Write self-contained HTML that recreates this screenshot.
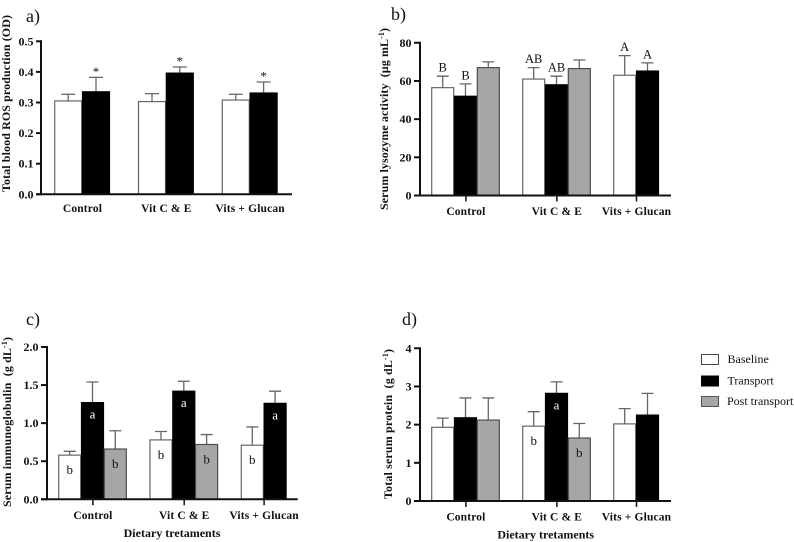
<!DOCTYPE html>
<html lang="en">
<head>
<meta charset="utf-8">
<title>Physiological responses to dietary treatments</title>
<style>
html,body{margin:0;padding:0;background:#fff;}
#figure{display:block;width:794px;height:542px;filter:blur(0.35px);}
text{font-family:"Liberation Serif",serif;fill:#111;}
.bold{font-weight:bold;}
.pre{white-space:pre;}
</style>
</head>
<body>
<svg id="figure" xmlns="http://www.w3.org/2000/svg" width="794" height="542" viewBox="0 0 794 542">
  <g id="panel-a"></g>
  <g id="panel-b"></g>
  <g id="panel-c"></g>
  <g id="panel-d"></g>
  <g>
    <g>
      <rect x="701.5" y="354.5" width="17" height="10" fill="#fff" stroke="#444" stroke-width="1"/>
      <text x="727.5" y="363" font-size="12">Baseline</text>
    </g>
    <g>
      <rect x="701.5" y="376" width="17" height="10" fill="#000" stroke="#000" stroke-width="1"/>
      <text x="727.5" y="384.5" font-size="12">Transport</text>
    </g>
    <g>
      <rect x="701.5" y="396.5" width="17" height="10" fill="#a6a6a6" stroke="#555" stroke-width="1"/>
      <text x="727" y="405" font-size="12">Post transport</text>
    </g>
  </g>
</svg>
<script>
const categories = ['Control', 'Vit C & E', 'Vits + Glucan'];
const seriesNames = ['baseline', 'transport', 'post-transport'];

const rosTicks = ['0.0', '0.1', '0.2', '0.3', '0.4', '0.5'];
const rosBaseline = [0.305, 0.303, 0.308];
const rosBaselineTop = [0.327, 0.329, 0.327];
const rosTransport = [0.335, 0.396, 0.331];
const rosTransportTop = [0.382, 0.416, 0.367];
const rosPost = [null, null, null];
const rosPostTop = [null, null, null];
const rosTransportMarks = ['*', '*', '*'];

const lysoTicks = ['0', '20', '40', '60', '80'];
const lysoBaseline = [56.5, 61, 63];
const lysoBaselineTop = [62.5, 67, 73.3];
const lysoTransport = [52, 58, 65.2];
const lysoTransportTop = [58.5, 62.5, 69.5];
const lysoPost = [67, 66.5, null];
const lysoPostTop = [70, 71, null];
const lysoBaselineMarks = ['B', 'AB', 'A'];
const lysoTransportMarks = ['B', 'AB', 'A'];

const igTicks = ['0.0', '0.5', '1.0', '1.5', '2.0'];
const igBaseline = [0.58, 0.78, 0.71];
const igBaselineTop = [0.63, 0.89, 0.95];
const igTransport = [1.27, 1.42, 1.26];
const igTransportTop = [1.54, 1.55, 1.42];
const igPost = [0.66, 0.72, null];
const igPostTop = [0.90, 0.85, null];
const igBaselineMarks = ['b', 'b', 'b'];
const igTransportMarks = ['a', 'a', 'a'];
const igPostMarks = ['b', 'b', ''];

const tspTicks = ['0', '1', '2', '3', '4'];
const tspBaseline = [1.93, 1.96, 2.02];
const tspBaselineTop = [2.17, 2.34, 2.42];
const tspTransport = [2.18, 2.82, 2.25];
const tspTransportTop = [2.70, 3.12, 2.82];
const tspPost = [2.12, 1.65, null];
const tspPostTop = [2.70, 2.03, null];
const tspBaselineMarks = ['', 'b', ''];
const tspTransportMarks = ['', 'a', ''];
const tspPostMarks = ['', 'b', ''];

const SVG_NS = 'http://www.w3.org/2000/svg';
const FILLS = ['#ffffff', '#000000', '#a6a6a6'];
const EDGES = ['#666666', '#000000', '#4d4d4d'];

function make(parent, tag, attrs, text) {
  const el = document.createElementNS(SVG_NS, tag);
  Object.keys(attrs).forEach(function (k) { el.setAttribute(k, attrs[k]); });
  if (text !== undefined) el.textContent = text;
  parent.appendChild(el);
  return el;
}

function drawPanel(cfg) {
  const root = document.getElementById(cfg.id);
  const maxVal = parseFloat(cfg.ticks[cfg.ticks.length - 1]);
  const yOf = function (v) { return cfg.y0 - (v / maxVal) * (cfg.y0 - cfg.yTop); };
  const barX = function (g, s) { return cfg.x0 + g * cfg.groupStep + s * cfg.barStep; };

  // bars and error bars
  cfg.series.forEach(function (vals, s) {
    vals.forEach(function (v, g) {
      if (v === null) return;
      const x = barX(g, s);
      const w = cfg.barWidth;
      const cx = x + w / 2;
      const top = yOf(cfg.tops[s][g]);
      const capHalf = cfg.cap / 2;
      const stem = make(root, 'path', { d: 'M' + cx + ' ' + yOf(v) + 'V' + top + 'M' + (cx - capHalf) + ' ' + top + 'H' + (cx + capHalf), fill: 'none', stroke: '#666', 'stroke-width': 1.3 });
      
      
      const bar = make(root, 'rect', { x: x, y: yOf(v), width: w, height: cfg.y0 - yOf(v), fill: FILLS[s], stroke: EDGES[s], 'stroke-width': 1.2 });
      
      
    });
  });

  // letters above error bars
  (cfg.above || []).forEach(function (item) {
    item.marks.forEach(function (m, g) {
      if (!m) return;
      const s = item.series;
      const label = make(root, 'text', { x: barX(g, s) + cfg.barWidth / 2 + (cfg.aboveShift || 0), y: yOf(cfg.tops[s][g]) - cfg.aboveGap, 'font-size': cfg.aboveSize, 'text-anchor': 'middle' }, m);
      
      
    });
  });

  // letters inside bars
  (cfg.inside || []).forEach(function (item) {
    item.marks.forEach(function (m, g) {
      if (!m) return;
      const s = item.series;
      const fill = s === 1 ? '#fff' : '#111';
      const gap = m === 'a' ? 16 : 19;
      const label = make(root, 'text', { x: barX(g, s) + cfg.barWidth / 2, y: yOf(cfg.series[s][g]) + gap, 'font-size': 13, 'text-anchor': 'middle', style: 'fill:' + fill }, m);
      
      
    });
  });

  // axes
  const yAxis = make(root, 'line', { x1: cfg.axisX, x2: cfg.axisX, y1: cfg.yTop - 1, y2: cfg.y0 + 1, stroke: '#111', 'stroke-width': 2 });
  
  
  const xAxis = make(root, 'line', { x1: cfg.axisX - cfg.tickLen, x2: cfg.xEnd, y1: cfg.y0, y2: cfg.y0, stroke: '#111', 'stroke-width': 2 });
  
  

  cfg.ticks.forEach(function (t) {
    const y = yOf(parseFloat(t));
    const tick = make(root, 'line', { x1: cfg.axisX - cfg.tickLen, x2: cfg.axisX, y1: y, y2: y, stroke: '#111', 'stroke-width': 2 });
    
    
    const lab = make(root, 'text', { x: cfg.axisX - cfg.tickLen - 2.5, y: y + 4, 'font-size': 12, 'text-anchor': 'end', 'class': 'bold' }, t);
    
    
  });

  categories.forEach(function (c, g) {
    const n = cfg.series.filter(function (vals) { return vals[g] !== null; }).length;
    const cx = barX(g, 0) + n * cfg.barStep / 2;
    if (cfg.xTicks) {
      const tick = make(root, 'line', { x1: cx, x2: cx, y1: cfg.y0, y2: cfg.y0 + 6, stroke: '#111', 'stroke-width': 1.5 });
      
      
    }
    const lab = make(root, 'text', { x: cx, y: cfg.catY, 'font-size': 11.5, 'letter-spacing': 0.15, 'text-anchor': 'middle', 'class': 'bold' }, c);
    
    
  });

  // titles
  const panelLabel = make(root, 'text', { x: cfg.letterX, y: cfg.letterY, 'font-size': 18 }, cfg.letter);
  
  

  const yTitle = make(root, 'text', { transform: 'translate(' + cfg.titleX + ' ' + cfg.titleBottom + ') rotate(-90)', 'font-size': 12, 'class': 'bold pre', textLength: cfg.titleLen, lengthAdjust: 'spacing' });
  
  
  make(yTitle, 'tspan', {}, cfg.title);
  if (cfg.titleSup) {
    make(yTitle, 'tspan', { dy: -4, 'font-size': 8 }, cfg.titleSup);
    make(yTitle, 'tspan', { dy: 4 }, ')');
  }

  if (cfg.xTitleY) {
    const xTitle = make(root, 'text', { x: cfg.xTitleX, y: cfg.xTitleY, 'font-size': 12, 'text-anchor': 'middle', 'class': 'bold' }, 'Dietary tretaments');
    
    
  }
}

drawPanel({
  id: 'panel-a', letter: 'a)', letterX: 26, letterY: 22,
  ticks: rosTicks, y0: 194.3, yTop: 41.3, axisX: 41, xEnd: 292, tickLen: 5,
  x0: 54.7, groupStep: 83.8, barStep: 27.8, barWidth: 27, cap: 14, xTicks: false, catY: 212,
  series: [rosBaseline, rosTransport, rosPost],
  tops: [rosBaselineTop, rosTransportTop, rosPostTop],
  above: [{ series: 1, marks: rosTransportMarks }], aboveGap: 1.5, aboveSize: 13,
  title: 'Total blood ROS production (OD)', titleX: 10, titleBottom: 192, titleLen: 177
});

drawPanel({
  id: 'panel-b', letter: 'b)', letterX: 391, letterY: 20,
  ticks: lysoTicks, y0: 195.5, yTop: 42.8, axisX: 420, xEnd: 671, tickLen: 6,
  x0: 431.7, groupStep: 91, barStep: 22.8, barWidth: 22, cap: 12, xTicks: true, catY: 215,
  series: [lysoBaseline, lysoTransport, lysoPost],
  tops: [lysoBaselineTop, lysoTransportTop, lysoPostTop],
  above: [{ series: 0, marks: lysoBaselineMarks }, { series: 1, marks: lysoTransportMarks }], aboveGap: 4.5, aboveSize: 12.5,
  title: 'Serum lysozyme activity  (\u00b5g mL', titleSup: '-1', titleX: 388, titleBottom: 210, titleLen: 182
});

drawPanel({
  id: 'panel-c', letter: 'c)', letterX: 26, letterY: 325,
  ticks: igTicks, y0: 499.3, yTop: 347, axisX: 47, xEnd: 297.7, tickLen: 6,
  x0: 58.7, groupStep: 91.3, barStep: 22.8, barWidth: 22, cap: 12, xTicks: true, catY: 519,
  series: [igBaseline, igTransport, igPost],
  tops: [igBaselineTop, igTransportTop, igPostTop],
  inside: [{ series: 0, marks: igBaselineMarks }, { series: 1, marks: igTransportMarks }, { series: 2, marks: igPostMarks }],
  title: 'Serum immunoglobulin  (g dL', titleSup: '-1', titleX: 11, titleBottom: 507, titleLen: 170,
  xTitleX: 172, xTitleY: 537
});

drawPanel({
  id: 'panel-d', letter: 'd)', letterX: 402, letterY: 325,
  ticks: tspTicks, y0: 501, yTop: 348.3, axisX: 420, xEnd: 671, tickLen: 6,
  x0: 431.7, groupStep: 91, barStep: 22.8, barWidth: 22, cap: 12, xTicks: true, catY: 520.5,
  series: [tspBaseline, tspTransport, tspPost],
  tops: [tspBaselineTop, tspTransportTop, tspPostTop],
  inside: [{ series: 0, marks: tspBaselineMarks }, { series: 1, marks: tspTransportMarks }, { series: 2, marks: tspPostMarks }],
  title: 'Total serum protein  (g dL', titleSup: '-1', titleX: 392, titleBottom: 499, titleLen: 150,
  xTitleX: 545.7, xTitleY: 538.5
});
</script>
</body>
</html>
